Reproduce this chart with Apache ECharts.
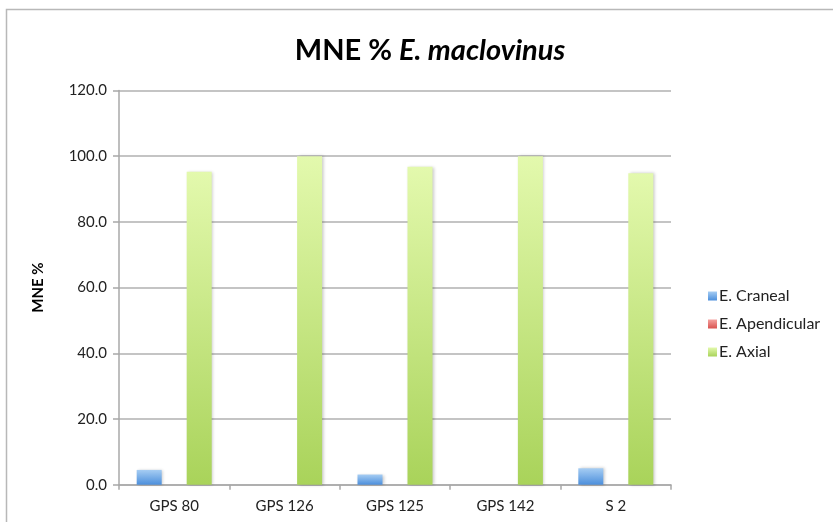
<!DOCTYPE html>
<html>
<head>
<meta charset="utf-8">
<script src="https://cdn.jsdelivr.net/npm/echarts@6/dist/echarts.min.js"></script>
<style>
  html, body { margin: 0; padding: 0; background: #ffffff; }
  #chart { width: 833px; height: 522px; }
</style>
</head>
<body>
<div id="chart"></div>
<script>
// Sites and MNE % per skeletal element group
const categories = ['GPS 80', 'GPS 126', 'GPS 125', 'GPS 142', 'S 2'];
const craneal = [4.5, 0, 3.1, 0, 5.0];
const apendicular = [0, 0, 0, 0, 0];
const axial = [95.3, 100, 96.8, 100, 94.8];
const yTicks = { min: 0, max: 120, interval: 20 };

const FONT = 'Lato, "Liberation Sans", sans-serif';

function grad(top, bottom) {
  return new echarts.graphic.LinearGradient(0, 0, 0, 1, [
    { offset: 0, color: top },
    { offset: 1, color: bottom }
  ]);
}

function barSeries(name, data, top, bottom) {
  return {
    name: name,
    type: 'bar',
    data: data,
    barWidth: 25,
    barGap: '0%',
    itemStyle: {
      color: grad(top, bottom),
      shadowColor: 'rgba(0,0,0,0.22)',
      shadowBlur: 3,
      shadowOffsetX: 1.5,
      shadowOffsetY: 0
    },
    emphasis: { disabled: true }
  };
}

const chart = echarts.init(document.getElementById('chart'), null, { renderer: 'canvas' });

chart.setOption({
  animation: false,
  backgroundColor: '#ffffff',
  graphic: [{
    type: 'rect',
    shape: { x: 6.5, y: 9.5, width: 900, height: 600 },
    style: { fill: 'none', stroke: '#b8b8b8', lineWidth: 1.5 },
    silent: true,
    z: -1
  }],
  title: {
    text: '{a|MNE % }{b|E. maclovinus}',
    left: 425,
    top: 31,
    textAlign: 'center',
    textStyle: {
      rich: {
        a: { fontFamily: FONT, fontWeight: 'bold', fontSize: 29, color: '#000' },
        b: { fontFamily: FONT, fontWeight: 'bold', fontStyle: 'italic', fontSize: 29, color: '#000' }
      }
    }
  },
  legend: {
    orient: 'vertical',
    left: 703,
    top: 283,
    itemWidth: 9,
    itemHeight: 9,
    itemGap: 12,
    icon: 'rect',
    textStyle: { fontFamily: FONT, fontSize: 16, color: '#222', padding: [0, 0, 0, -3] },
    data: ['E. Craneal', 'E. Apendicular', 'E. Axial']
  },
  grid: { left: 119, right: 162, top: 90.5, bottom: 37.3, containLabel: false },
  xAxis: {
    type: 'category',
    data: categories,
    axisLine: { show: true, lineStyle: { color: '#a8a8a8', width: 1.5 } },
    axisTick: { show: true, length: 5, alignWithLabel: false, lineStyle: { color: '#a8a8a8', width: 1.5 } },
    axisLabel: { fontFamily: FONT, fontSize: 15, color: '#222', margin: 14 }
  },
  yAxis: {
    type: 'value',
    min: yTicks.min,
    max: yTicks.max,
    interval: yTicks.interval,
    name: 'MNE %',
    nameLocation: 'middle',
    nameGap: 73,
    nameRotate: 90,
    nameTextStyle: { fontFamily: FONT, fontWeight: 'bold', fontSize: 15, color: '#000' },
    axisLine: { show: true, lineStyle: { color: '#a8a8a8', width: 1.5 } },
    axisTick: { show: true, inside: false, length: 6, lineStyle: { color: '#a8a8a8', width: 1.5 } },
    axisLabel: {
      fontFamily: FONT, fontSize: 15, color: '#222', margin: 12,
      formatter: v => v.toFixed(1)
    },
    splitLine: { show: true, lineStyle: { color: '#b0b0b0', width: 1.5 } }
  },
  series: [
    barSeries('E. Craneal', craneal, '#a6cdf3', '#4c8fdc'),
    barSeries('E. Apendicular', apendicular, '#f5a3a0', '#d9524f'),
    barSeries('E. Axial', axial, '#e3f9ad', '#a9d35a')
  ]
});
</script>
</body>
</html>
